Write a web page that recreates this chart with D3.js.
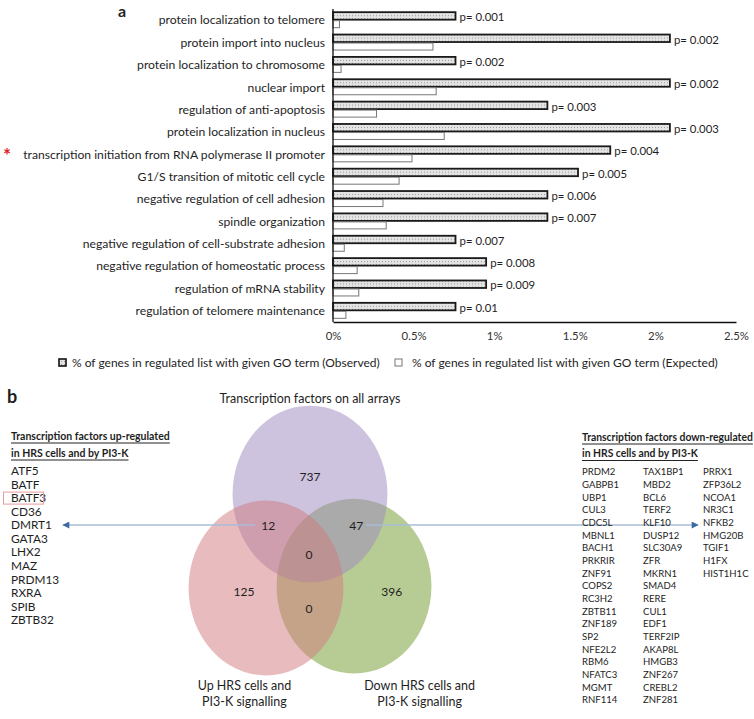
<!DOCTYPE html>
<html><head><meta charset="utf-8">
<script src="https://cdn.jsdelivr.net/npm/d3@7"></script>
<style>body{margin:0;background:#fff}svg{display:block}text{font-family:Lato,"Open Sans",sans-serif;fill:#1e1e1e}</style>
</head><body><svg id="c" width="754" height="719"></svg>
<script>
// ---------- DATA ----------
const categories = [
  "protein localization to telomere",
  "protein import into nucleus",
  "protein localization to chromosome",
  "nuclear import",
  "regulation of anti-apoptosis",
  "protein localization in nucleus",
  "transcription initiation from RNA polymerase II promoter",
  "G1/S transition of mitotic cell cycle",
  "negative regulation of cell adhesion",
  "spindle organization",
  "negative regulation of cell-substrate adhesion",
  "negative regulation of homeostatic process",
  "regulation of mRNA stability",
  "regulation of telomere maintenance"
];
const observed = [0.76, 2.09, 0.76, 2.09, 1.33, 2.09, 1.72, 1.52, 1.33, 1.33, 0.76, 0.95, 0.95, 0.76];
const expected = [0.04, 0.62, 0.05, 0.64, 0.27, 0.69, 0.49, 0.41, 0.31, 0.33, 0.07, 0.15, 0.16, 0.08];
const pValues = ["0.001","0.002","0.002","0.002","0.003","0.003","0.004","0.005","0.006","0.007","0.007","0.008","0.009","0.01"];
const xTicks = [0, 0.5, 1, 1.5, 2, 2.5];
const legendLabels = [
  "% of genes in regulated list with given GO term (Observed)",
  "% of genes in regulated list with given GO term (Expected)"
];
const highlighted = "transcription initiation from RNA polymerase II promoter";

const vennSetNames = ["Transcription factors on all arrays", "Up HRS cells and|PI3-K signalling", "Down HRS cells and|PI3-K signalling"];
const vennCounts = [737, 12, 47, 0, 125, 0, 396];

const upHeading = ["Transcription factors up-regulated", "in HRS cells and by PI3-K"];
const upGenes = ["ATF5","BATF","BATF3","CD36","DMRT1","GATA3","LHX2","MAZ","PRDM13","RXRA","SPIB","ZBTB32"];
const upHighlighted = "BATF3";
const downHeading = ["Transcription factors down-regulated", "in HRS cells and by PI3-K"];
const downGenes = [
  ["PRDM2","GABPB1","UBP1","CUL3","CDC5L","MBNL1","BACH1","PRKRIR","ZNF91","COPS2","RC3H2","ZBTB11","ZNF189","SP2","NFE2L2","RBM6","NFATC3","MGMT","RNF114"],
  ["TAX1BP1","MBD2","BCL6","TERF2","KLF10","DUSP12","SLC30A9","ZFR","MKRN1","SMAD4","RERE","CUL1","EDF1","TERF2IP","AKAP8L","HMGB3","ZNF267","CREBL2","ZNF281"],
  ["PRRX1","ZFP36L2","NCOA1","NR3C1","NFKB2","HMG20B","TGIF1","H1FX","HIST1H1C"]
];

// ---------- LAYOUT ----------
const svg = d3.select("#c");
function fit(sample, target, weight) {
  const t = svg.append("text").attr("font-size", 100).attr("font-weight", weight || "normal").text(sample);
  const w = t.node().getComputedTextLength(); t.remove();
  return 100 * target / w;
}

const defs = svg.append("defs");
const pat = defs.append("pattern").attr("id", "dots").attr("patternUnits", "userSpaceOnUse").attr("width", 3).attr("height", 3);
pat.append("rect").attr("width", 3).attr("height", 3).attr("fill", "#e4e4e4");
pat.append("rect").attr("x", 1).attr("y", 1).attr("width", 1).attr("height", 1).attr("fill", "#9a9a9a");
defs.append("marker").attr("id", "ah").attr("viewBox", "0 0 10 10").attr("refX", 9).attr("refY", 5)
  .attr("markerWidth", 9).attr("markerHeight", 7).attr("markerUnits", "userSpaceOnUse").attr("orient", "auto")
  .append("path").attr("d", "M0,0L10,5L0,10z").attr("fill", "#3d6aa3");

// ---------- PANEL A ----------
const x = d3.scaleLinear().domain([0, 2.5]).range([333, 736]);
const y = d3.scaleBand().domain(categories).range([9, 322]);
const barH = 8;

const catSize = fit(highlighted, 302);
const pSize = fit("p= 0.001", 45);
const tickSize = fit("2.5%", 25);
const legSize = fit(legendLabels[0], 308);

svg.append("text").attr("x", 118).attr("y", 17).attr("font-size", 16).attr("font-weight", "bold").attr("font-family", "Liberation Sans, Arial").text("a");

const rows = svg.append("g").selectAll("g").data(categories).join("g")
  .attr("transform", d => `translate(0,${y(d) + y.bandwidth() / 2})`);

rows.append("text").attr("x", 325).attr("y", 0).attr("dy", "0.35em").attr("text-anchor", "end")
  .attr("font-size", catSize).text(d => d);

rows.append("rect").attr("x", x(0)).attr("y", -barH)
  .attr("width", (d, i) => x(observed[i]) - x(0)).attr("height", barH - 0.5)
  .attr("fill", "url(#dots)").attr("stroke", "#1a1a1a").attr("stroke-width", 1.8);
rows.append("rect").attr("x", x(0)).attr("y", 0.5)
  .attr("width", (d, i) => x(expected[i]) - x(0)).attr("height", 7)
  .attr("fill", "#fff").attr("stroke", "#777").attr("stroke-width", 1);
rows.append("text").attr("x", (d, i) => x(observed[i]) + 4).attr("y", -barH / 2 + 1).attr("dy", "0.35em")
  .attr("font-size", pSize).text((d, i) => "p= " + pValues[i]);

svg.append("text").attr("x", 7).attr("y", y(highlighted) + y.bandwidth() / 2 + 8)
  .attr("text-anchor", "middle").attr("font-size", 19).attr("font-weight", "bold").style("fill", "#e02020").text("*");

// axes
svg.append("line").attr("x1", x(0)).attr("x2", x(0)).attr("y1", 9).attr("y2", 322).attr("stroke", "#111").attr("stroke-width", 1.3);
const xAxis = svg.append("g").attr("transform", "translate(0,322)")
  .call(d3.axisBottom(x).tickValues(xTicks).tickSize(0).tickPadding(10).tickFormat(d => d + "%"));
xAxis.select(".domain").attr("stroke", "#111").attr("stroke-width", 1.3);
xAxis.selectAll("text").attr("font-size", tickSize).attr("font-family", "Lato").style("fill", "#333");

// legend
const leg = svg.append("g");
const legX = [59, 395];
legendLabels.forEach((lbl, i) => {
  leg.append("rect").attr("x", legX[i]).attr("y", 359).attr("width", 7).attr("height", 7)
    .attr("fill", i === 0 ? "url(#dots)" : "#fff").attr("stroke", i === 0 ? "#111" : "#777").attr("stroke-width", i === 0 ? 1.6 : 1);
  leg.append("text").attr("x", legX[i] + (i === 0 ? 13 : 17)).attr("y", 363).attr("dy", "0.35em")
    .attr("font-size", legSize).text(lbl);
});

// ---------- PANEL B ----------
svg.append("text").attr("x", 7).attr("y", 403).attr("font-size", 18).attr("font-weight", "bold").attr("font-family", "Liberation Sans, Arial").text("b");

// Venn scales
const vx = d3.scaleLinear().domain([-1, 1]).range([266, 354]);
const vy = d3.scaleLinear().domain([0, 1]).range([494, 588]);
const vennShapes = [ // drawing order: green, purple, pink
  { cx: 1, cy: 0.98, rx: 1.76, ry: 0.93, color: "#6f9929" },
  { cx: 0, cy: 0, rx: 1.76, ry: 0.94, color: "#9b87bd" },
  { cx: -1, cy: 1, rx: 1.76, ry: 0.93, color: "#d1797d" }
];
svg.append("g").selectAll("ellipse").data(vennShapes).join("ellipse")
  .attr("cx", d => vx(d.cx)).attr("cy", d => vy(d.cy))
  .attr("rx", d => vx(d.rx) - vx(0)).attr("ry", d => vy(d.ry) - vy(0))
  .attr("fill", d => d.color).attr("fill-opacity", 0.5);

// arrows
svg.append("line").attr("x1", 255).attr("x2", 63).attr("y1", vy(0.33)).attr("y2", vy(0.33))
  .attr("stroke", "#a9bcd6").attr("stroke-width", 1.3).attr("marker-end", "url(#ah)");
svg.append("line").attr("x1", 366).attr("x2", 698).attr("y1", vy(0.33)).attr("y2", vy(0.33))
  .attr("stroke", "#a9bcd6").attr("stroke-width", 1.3).attr("marker-end", "url(#ah)");

const countPos = [[0, -0.18], [-0.95, 0.34], [1.05, 0.34], [-0.02, 0.65], [-1.5, 1.04], [-0.02, 1.22], [1.86, 1.04]];
const numSize = fit("737", 21);
svg.append("g").selectAll("text").data(vennCounts).join("text")
  .attr("x", (d, i) => vx(countPos[i][0])).attr("y", (d, i) => vy(countPos[i][1])).attr("dy", "0.35em")
  .attr("text-anchor", "middle").attr("font-size", numSize).text(d => d);

const setLblSize = fit(vennSetNames[0], 181);
const setLblPos = [[0, -1.01], [-1.49, 2.04], [2.49, 2.04]];
vennSetNames.forEach((name, i) => {
  name.split("|").forEach((line, j) => {
    svg.append("text").attr("x", vx(setLblPos[i][0])).attr("y", vy(setLblPos[i][1]) + j * 16).attr("dy", "0.35em")
      .attr("text-anchor", "middle").attr("font-size", setLblSize).text(line);
  });
});

// left list
const hSize = fit(upHeading[0], 159, "bold");
upHeading.forEach((line, j) => {
  const t = svg.append("text").attr("x", 11).attr("y", 436 + j * 17).attr("dy", "0.35em")
    .attr("font-size", hSize).attr("font-weight", "bold").text(line);
  const w = t.node().getComputedTextLength();
  svg.append("line").attr("x1", 11).attr("x2", 11 + w).attr("y1", 443 + j * 17).attr("y2", 443 + j * 17)
    .attr("stroke", "#222").attr("stroke-width", 1);
});
const upSize = fit("DMRT1", 41);
const upY = d3.scalePoint().domain(upGenes).range([471, 620]);
svg.append("g").selectAll("text").data(upGenes).join("text")
  .attr("x", 11).attr("y", d => upY(d)).attr("dy", "0.35em").attr("font-size", upSize).text(d => d);
svg.append("rect").attr("x", 3.5).attr("y", upY(upHighlighted) - 6).attr("width", 40).attr("height", 12)
  .attr("fill", "none").attr("stroke", "#e79a9a").attr("stroke-width", 1);

// right list
const h2Size = fit(downHeading[0], 171, "bold");
downHeading.forEach((line, j) => {
  const t = svg.append("text").attr("x", 582).attr("y", 437 + j * 16.5).attr("dy", "0.35em")
    .attr("font-size", h2Size).attr("font-weight", "bold").text(line);
  const w = t.node().getComputedTextLength();
  svg.append("line").attr("x1", 582).attr("x2", 582 + w).attr("y1", 444 + j * 16.5).attr("y2", 444 + j * 16.5)
    .attr("stroke", "#222").attr("stroke-width", 1);
});
const dnSize = fit("TAX1BP1", 40.7);
const colX = [582, 643, 703];
const rowY = d3.scaleLinear().domain([0, 18]).range([472, 700]);
downGenes.forEach((col, c) => {
  svg.append("g").selectAll("text").data(col).join("text")
    .attr("x", colX[c]).attr("y", (d, i) => rowY(i)).attr("dy", "0.35em").attr("font-size", dnSize).text(d => d);
});
</script></body></html>
